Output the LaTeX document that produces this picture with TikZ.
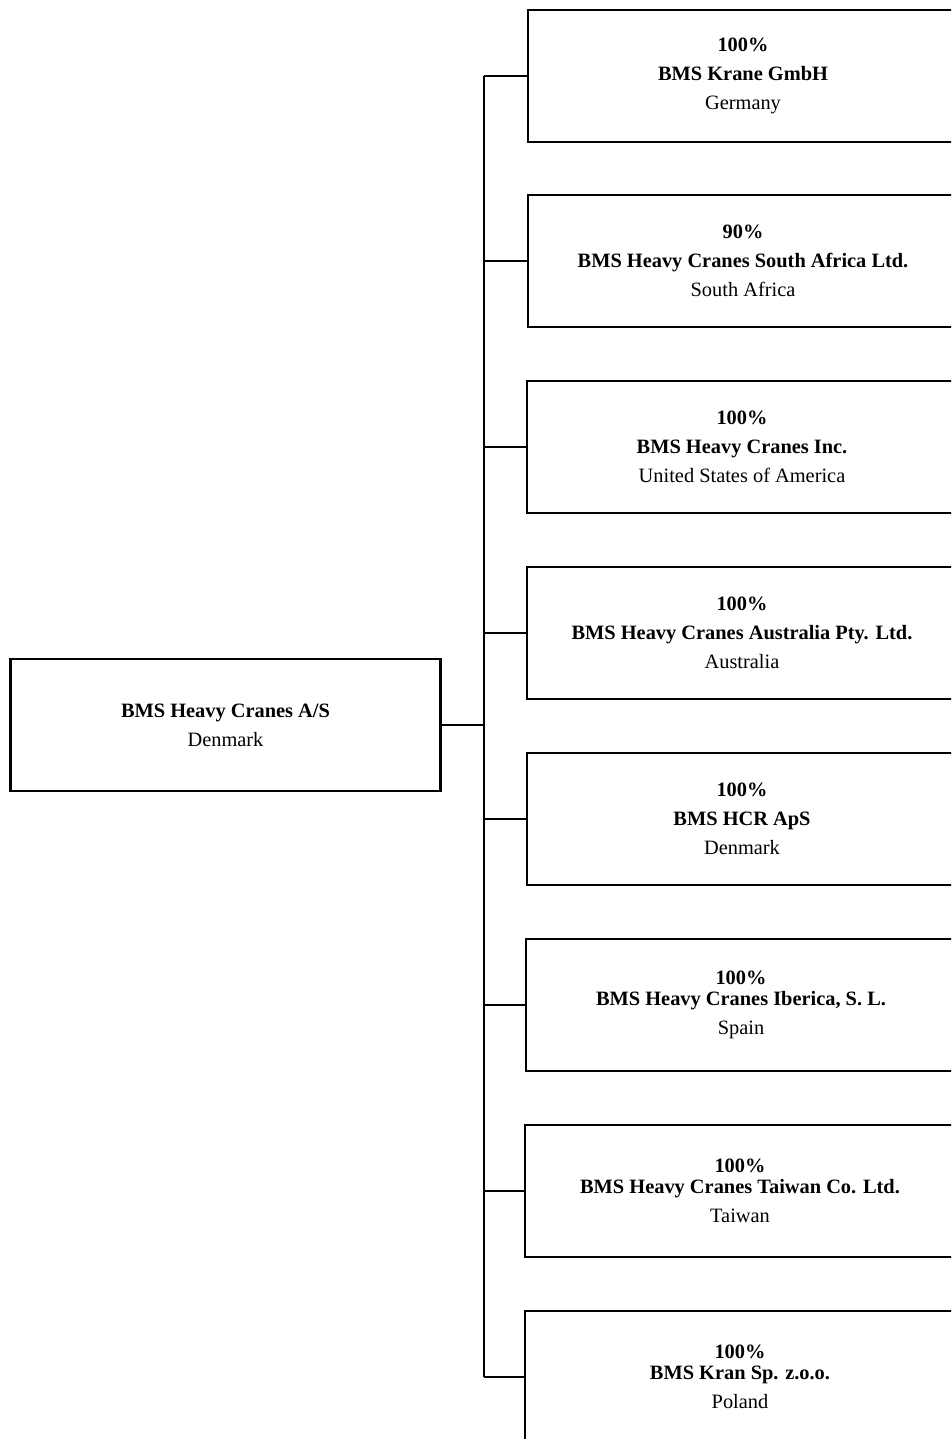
\documentclass[tikz,border=0pt]{standalone}
\usepackage{fontspec}
\setmainfont{Liberation Serif}
\usepackage{tikz}
\usetikzlibrary{positioning}

\tikzset{
  cobox/.style={draw, line width=1.4pt, minimum width=8.6cm, minimum height=2.64cm,
    align=center, inner sep=0pt, font=\fontsize{11.6}{16.5}\selectfont},
  link/.style={line width=1.1pt}
}

\begin{document}
\begin{tikzpicture}[x=0.02cm, y=0.02cm]
\clip (0,0) rectangle (951,-1439);

% parent company
\node[cobox] (root) at (225.5,-725) {\textbf{BMS Heavy Cranes A/S}\\Denmark};

% subsidiaries
\node[cobox] (s1) at (743,-76)  {\textbf{100\%}\\\textbf{BMS Krane GmbH}\\Germany};
\node[cobox] (s2) at (743,-261) {\textbf{90\%}\\\textbf{BMS Heavy Cranes South Africa Ltd.}\\South Africa};
\node[cobox] (s3) at (742,-447) {\textbf{100\%}\\\textbf{BMS Heavy Cranes Inc.}\\United States of America};
\node[cobox] (s4) at (742,-633) {\textbf{100\%}\\\textbf{BMS Heavy Cranes Australia Pty. Ltd.}\\Australia};
\node[cobox] (s5) at (742,-819) {\textbf{100\%}\\\textbf{BMS HCR ApS}\\Denmark};
\node[cobox] (s6) at (741,-1005) {\textbf{100\%}\\[-4.5pt]\textbf{BMS Heavy Cranes Iberica, S. L.}\\Spain};
\node[cobox] (s7) at (740,-1191) {\textbf{100\%}\\[-4.5pt]\textbf{BMS Heavy Cranes Taiwan Co. Ltd.}\\Taiwan};
\node[cobox] (s8) at (740,-1377) {\textbf{100\%}\\[-4.5pt]\textbf{BMS Kran Sp. z.o.o.}\\Poland};

\coordinate (trunk) at (484,0);

\draw[link] (root.east) -- (root.east -| trunk);
\draw[link] (s1.west -| trunk) -- (s8.west -| trunk);
\draw[link] (s1.west) -- (s1.west -| trunk);
\draw[link] (s2.west) -- (s2.west -| trunk);
\draw[link] (s3.west) -- (s3.west -| trunk);
\draw[link] (s4.west) -- (s4.west -| trunk);
\draw[link] (s5.west) -- (s5.west -| trunk);
\draw[link] (s6.west) -- (s6.west -| trunk);
\draw[link] (s7.west) -- (s7.west -| trunk);
\draw[link] (s8.west) -- (s8.west -| trunk);

\end{tikzpicture}
\end{document}
